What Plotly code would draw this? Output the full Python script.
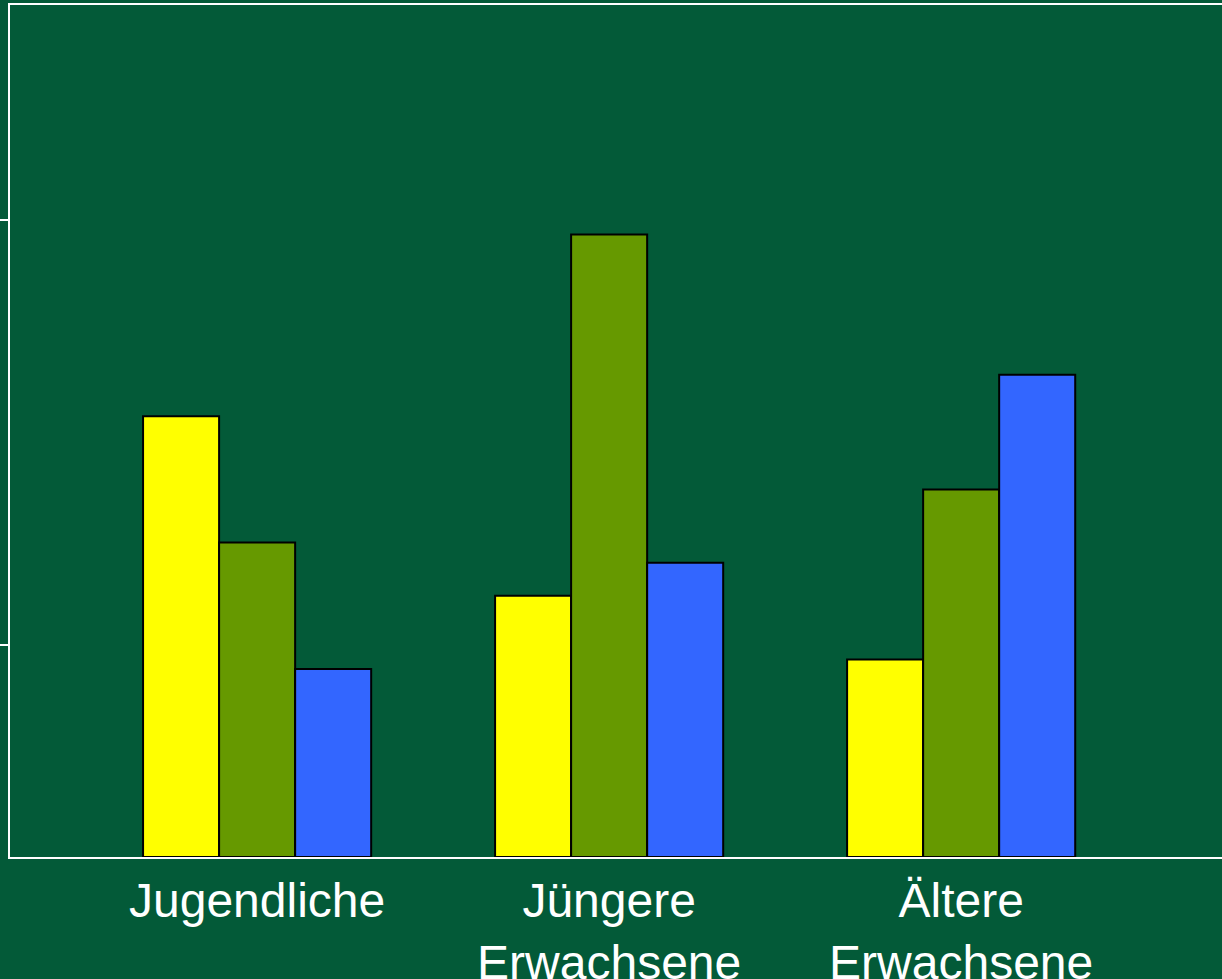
import plotly.graph_objects as go

categories = ["Jugendliche", "Jüngere<br>Erwachsene", "Ältere<br>Erwachsene"]
x_pos = [0, 1, 2]
series_yellow = [20.75, 12.3, 9.3]
series_green = [14.8, 29.3, 17.3]
series_blue = [8.85, 13.85, 22.7]

bg = "#035A38"
fig = go.Figure()
for vals, col in [(series_yellow, "#FFFF00"), (series_green, "#669900"), (series_blue, "#3366FF")]:
    fig.add_trace(go.Bar(x=x_pos, y=vals, marker=dict(color=col, line=dict(color="black", width=2)),
                         showlegend=False))

fig.update_layout(
    width=1222, height=979,
    margin=dict(l=10, r=0, t=5, b=122),
    paper_bgcolor=bg, plot_bgcolor=bg,
    barmode="group", bargap=0.352, bargroupgap=0,
    font=dict(family="Liberation Sans, Arial, sans-serif", color="white", size=48),
)
fig.update_xaxes(range=[-0.702, 2.741], tickvals=x_pos, ticktext=categories, automargin=False,
                 showline=True, linecolor="white", linewidth=2, mirror=True,
                 showgrid=False, zeroline=False, ticks="", tickfont=dict(size=48, color="white"))
fig.update_yaxes(range=[0, 40.1], tickvals=[10, 30], showticklabels=False, automargin=False,
                 ticks="outside", ticklen=9, tickcolor="white", tickwidth=2,
                 showline=True, linecolor="white", linewidth=2,
                 showgrid=False, zeroline=False)
fig.write_html("out.html", config={"displayModeBar": False},
               post_script="document.body.style.margin='0';document.body.style.overflow='hidden';"
                           "document.documentElement.style.overflow='hidden';")
